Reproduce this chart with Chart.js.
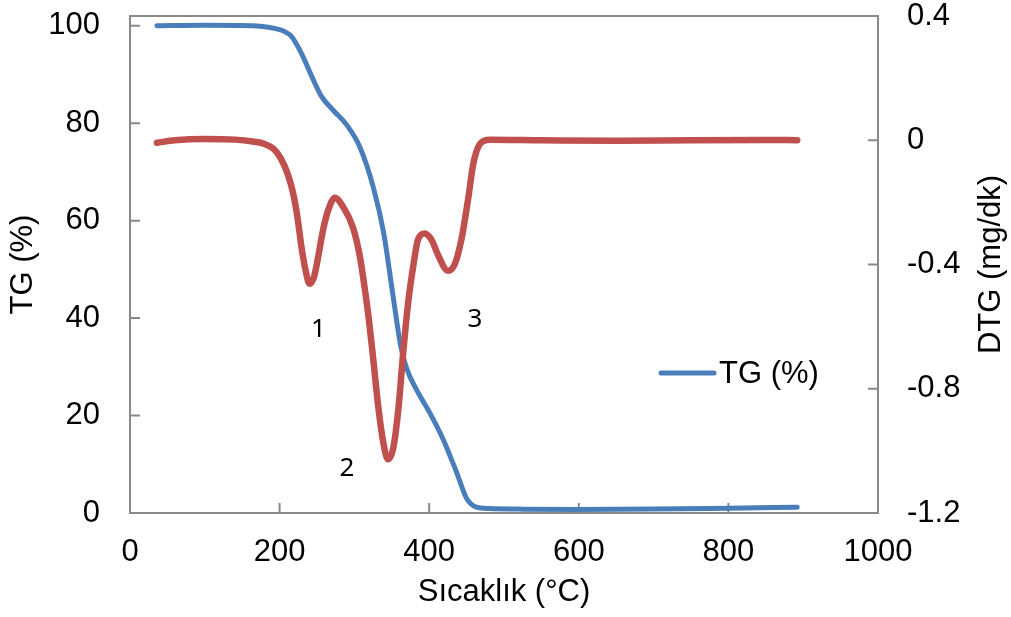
<!DOCTYPE html>
<html>
<head>
<meta charset="utf-8">
<script src="https://cdn.jsdelivr.net/npm/chart.js@4"></script>
<style>
  html, body { margin: 0; padding: 0; background: #fff; }
  #wrap { width: 1011px; height: 617px; }
</style>
</head>
<body>
<div id="wrap"><canvas id="tga"></canvas></div>
<script>
// sıcaklık (°C) ve TG (%) değerleri
const tgTemp = [36, 100, 164, 185, 200, 208, 216, 229, 243, 256, 272, 290, 307, 325, 339, 352, 362, 370, 383, 401, 419, 437, 450, 463, 480, 521, 600, 700, 800, 892];
const tgValue = [100, 100.1, 100, 99.7, 99.2, 98.7, 97.8, 94.4, 89.6, 85.5, 82.6, 79.6, 75.2, 67.0, 57.6, 44.2, 34.2, 29.6, 25.3, 20.5, 15.0, 8.2, 3.0, 1.2, 0.9, 0.8, 0.7, 0.8, 1.0, 1.2];

// DTG (mg/dk) değerleri
const dtgTemp = [36, 60, 100, 140, 164, 180, 192, 202, 211, 218, 224, 229, 234, 240, 246, 252, 258, 265, 274, 285, 298, 307, 314, 319, 325, 332, 339, 345, 352, 359, 365, 372, 379, 385, 394, 403, 412, 425, 434, 443, 452, 459, 468, 481, 550, 650, 750, 850, 892];
const dtgValue = [-0.008, 0, 0.004, 0.002, -0.004, -0.012, -0.028, -0.06, -0.11, -0.17, -0.25, -0.34, -0.41, -0.462, -0.44, -0.37, -0.29, -0.225, -0.185, -0.215, -0.28, -0.37, -0.48, -0.57, -0.70, -0.86, -0.978, -1.027, -0.99, -0.86, -0.69, -0.52, -0.4, -0.32, -0.3, -0.32, -0.37, -0.42, -0.4, -0.32, -0.19, -0.075, -0.011, 0.002, 0, -0.002, 0, 0.001, 0];

const xTicks = [0, 200, 400, 600, 800, 1000];
const tgTicks = [0, 20, 40, 60, 80, 100];
const dtgTicks = [-1.2, -0.8, -0.4, 0, 0.4];

// pik numaraları (sıcaklık, DTG)
const peakText = ["1", "2", "3"];
const peakTemp = [252, 290, 461];
const peakDtg = [-0.608, -1.056, -0.577];

const FONT = '"Liberation Sans", Arial, sans-serif';
const BLUE = "#4A7EBB";
const RED = "#C0504D";
const FRAME = "#898989";

const toPoints = (xs, ys) => xs.map((x, i) => ({ x: x, y: ys[i] }));

// çerçeve, içe dönük çentikler, gösterge ve etiketler
const decor = {
  id: "decor",
  beforeDatasetsDraw(chart) {
    const { ctx, chartArea: a, scales } = chart;
    ctx.save();
    ctx.strokeStyle = FRAME;
    ctx.lineWidth = 2;
    ctx.strokeRect(a.left, a.top, a.right - a.left, a.bottom - a.top);
    ctx.beginPath();
    xTicks.forEach(v => {
      const px = scales.x.getPixelForValue(v);
      ctx.moveTo(px, a.bottom); ctx.lineTo(px, a.bottom - 10);
    });
    tgTicks.forEach(v => {
      const py = scales.y.getPixelForValue(v);
      ctx.moveTo(a.left, py); ctx.lineTo(a.left + 10, py);
    });
    dtgTicks.forEach(v => {
      const py = scales.y2.getPixelForValue(v);
      ctx.moveTo(a.right, py); ctx.lineTo(a.right - 10, py);
    });
    ctx.stroke();
    ctx.restore();
  },
  afterDraw(chart) {
    const { ctx, chartArea: a, scales } = chart;
    ctx.save();
    // gösterge
    ctx.strokeStyle = BLUE;
    ctx.lineWidth = 5;
    ctx.lineCap = "round";
    ctx.beginPath();
    ctx.moveTo(661, 373); ctx.lineTo(714, 373);
    ctx.stroke();
    ctx.fillStyle = "#000";
    ctx.font = "31px " + FONT;
    ctx.textAlign = "left";
    ctx.textBaseline = "middle";
    ctx.fillText(chart.data.datasets[1].label, 719, 374);

    // sağ eksen başlığı
    ctx.save();
    ctx.translate(991, (a.top + a.bottom) / 2);
    ctx.rotate(-Math.PI / 2);
    ctx.textAlign = "center";
    ctx.fillText("DTG (mg/dk)", 0, 0);
    ctx.restore();

    // pik numaraları
    ctx.font = '26px "Noto Sans", sans-serif';
    ctx.textAlign = "center";
    peakText.forEach((t, i) => {
      ctx.fillText(t, scales.x.getPixelForValue(peakTemp[i]), scales.y2.getPixelForValue(peakDtg[i]));
    });
    ctx.restore();
  }
};

const tickFont = { family: FONT, size: 31 };

new Chart(document.getElementById("tga"), {
  type: "scatter",
  data: {
    datasets: [
      {
        label: "DTG (mg/dk)",
        data: toPoints(dtgTemp, dtgValue),
        yAxisID: "y2",
        showLine: true,
        borderColor: RED,
        borderWidth: 6.5,
        borderCapStyle: "round",
        borderJoinStyle: "round",
        pointRadius: 0,
        cubicInterpolationMode: "monotone",
      },
      {
        label: "TG (%)",
        data: toPoints(tgTemp, tgValue),
        yAxisID: "y",
        showLine: true,
        borderColor: BLUE,
        borderWidth: 5,
        borderCapStyle: "round",
        borderJoinStyle: "round",
        pointRadius: 0,
        cubicInterpolationMode: "monotone",
      },
    ],
  },
  options: {
    responsive: true,
    maintainAspectRatio: false,
    animation: false,
    layout: { padding: { top: 16, left: 0, right: 0, bottom: 0 } },
    plugins: {
      legend: { display: false },
      tooltip: { enabled: false },
    },
    scales: {
      x: {
        type: "linear",
        min: 0,
        max: 1000,
        afterBuildTicks: s => { s.ticks = xTicks.map(v => ({ value: v })); },
        afterFit: s => { s.height = 104; s.paddingLeft = 0; s.paddingRight = 0; },
        grid: { display: false, drawTicks: false },
        border: { display: false },
        ticks: { font: tickFont, color: "#000", padding: 21, maxRotation: 0, callback: v => String(v) },
        title: {
          display: true,
          text: "Sıcaklık (°C)",
          font: { family: FONT, size: 31 },
          color: "#000",
          padding: { top: 0, bottom: 6 },
        },
      },
      y: {
        position: "left",
        min: 0,
        max: 102,
        afterBuildTicks: s => { s.ticks = tgTicks.map(v => ({ value: v })); },
        afterFit: s => { s.width = 130; s.paddingTop = 0; s.paddingBottom = 0; },
        grid: { display: false, drawTicks: false },
        border: { display: false },
        ticks: { font: tickFont, color: "#000", padding: 30 },
        title: {
          display: true,
          text: "TG (%)",
          font: { family: FONT, size: 31 },
          color: "#000",
          padding: { top: 5, bottom: 0 },
        },
      },
      y2: {
        position: "right",
        min: -1.2,
        max: 0.4,
        afterBuildTicks: s => { s.ticks = dtgTicks.map(v => ({ value: v })); },
        afterFit: s => { s.width = 133; s.paddingTop = 0; s.paddingBottom = 0; },
        grid: { display: false, drawTicks: false },
        border: { display: false },
        ticks: {
          font: tickFont,
          color: "#000",
          padding: 29,
          callback: v => String(v),
        },
      },
    },
  },
  plugins: [decor],
});
</script>
</body>
</html>
